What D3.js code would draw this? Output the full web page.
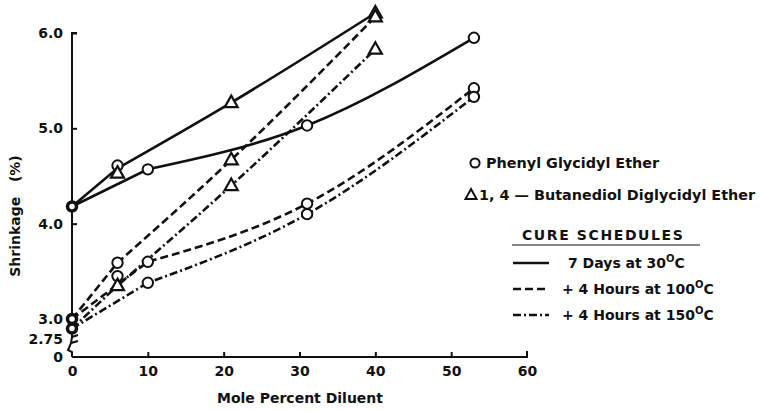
<!DOCTYPE html>
<html>
<head>
<meta charset="utf-8">
<script src="https://cdn.jsdelivr.net/npm/d3@7"></script>
<style>
  body { margin: 0; background: #fff; }
  svg text { font-family: "DejaVu Sans", sans-serif; font-weight: bold; fill: #111; }
</style>
</head>
<body>
<svg id="chart" width="764" height="411"></svg>
<script>
// mole percent diluent for each diluent
const pgeX = [0, 10, 31, 53];
const bdeX = [0, 6, 21, 40];

// shrinkage (%) per cure schedule
const pge30 = [4.18, 4.57, 5.03, 5.95];
const pge100 = [3.0, 3.6, 4.21, 5.42];
const pge150 = [2.88, 3.38, 4.1, 5.33];
const bde30 = [4.18, 4.58, 5.27, 6.21];
const bde100 = [3.0, 3.59, 4.67, 6.17];
const bde150 = [2.88, 3.35, 4.4, 5.83];

// plotted symbols [x, shrinkage]
const circlePts = [
  [0, 4.18], [0, 3.0], [0, 2.88],
  [6, 4.61], [6, 3.59], [6, 3.45],
  [10, 4.57], [10, 3.6], [10, 3.38],
  [31, 5.03], [31, 4.21], [31, 4.1],
  [53, 5.95], [53, 5.42], [53, 5.33]
];
const trianglePts = [
  [6, 4.53], [6, 3.35],
  [21, 5.27], [21, 4.67], [21, 4.4],
  [40, 6.21], [40, 6.17], [40, 5.83]
];

const xTicks = [0, 10, 20, 30, 40, 50, 60];
const yTicks = [0, 2.75, 3.0, 4.0, 5.0, 6.0];
const yTickLabels = ["0", "2.75", "3.0", "4.0", "5.0", "6.0"];

const legendDiluents = ["Phenyl Glycidyl Ether", "1, 4 \u2014 Butanediol Diglycidyl Ether"];
const legendCures = [["7 Days at 30", "C"], ["+ 4 Hours at 100", "C"], ["+ 4 Hours at 150", "C"]];

const svg = d3.select("#chart");

const xScale = d3.scaleLinear().domain([0, 60]).range([72, 527]);
// broken axis: 0 sits just below 2.75
const yScale = d3.scaleLinear().domain([0, 2.75, 3, 6]).range([357, 339, 319, 33]);

const styles = {
  solid: null,
  dashed: "8,4",
  dashdot: "8,3,2,3"
};

const series = [
  { x: pgeX, y: pge30, dash: styles.solid },
  { x: pgeX, y: pge100, dash: styles.dashed },
  { x: pgeX, y: pge150, dash: styles.dashdot },
  { x: bdeX, y: bde30, dash: styles.solid },
  { x: bdeX, y: bde100, dash: styles.dashed },
  { x: bdeX, y: bde150, dash: styles.dashdot }
];

const straight = d3.line()
  .x((d) => xScale(d[0]))
  .y((d) => yScale(d[1]));
const smooth = d3.line()
  .x((d) => xScale(d[0]))
  .y((d) => yScale(d[1]))
  .curve(d3.curveMonotoneX);

// first segment from the undiluted resin is straight, rest is smoothed
const curvePath = (s) => {
  const pts = s.x.map((x, i) => [x, s.y[i]]);
  const tail = smooth(pts.slice(1));
  return straight(pts.slice(0, 2)) + "L" + tail.slice(1);
};

// axes
const xAxis = svg.append("g")
  .attr("transform", `translate(0, ${yScale(0)})`)
  .call(d3.axisBottom(xScale).tickValues(xTicks).tickSize(-5).tickPadding(9));

const yAxis = svg.append("g")
  .attr("transform", `translate(${xScale(0)}, 0)`)
  .call(d3.axisLeft(yScale).tickValues(yTicks)
    .tickFormat((d, i) => yTickLabels[i]).tickSize(-5).tickPadding(9));

svg.selectAll(".domain").attr("stroke", "#111").attr("stroke-width", 2);
svg.selectAll(".tick line").attr("stroke", "#111").attr("stroke-width", 2);
svg.selectAll(".tick text").style("font-size", "14px").style("font-family", "DejaVu Sans, sans-serif").style("font-weight", "bold").attr("fill", "#111");
xAxis.select(".domain").attr("d", `M${xScale(0)},0H${xScale(60)}V-6`);
xAxis.selectAll(".tick").filter((d) => d === 0 || d === 60).select("line").remove();
yAxis.select(".domain").attr("d", `M5,${yScale(6)}H0V${yScale(2.75) - 2}`);
yAxis.selectAll(".tick").filter((d) => d === 0 || d === 2.75).select("line").remove();

// axis break
const bx = xScale(0), by = yScale(2.75);
svg.append("path")
  .attr("d", `M${bx},${by - 2} l6,-2 M${bx},${by - 2} L${bx - 1},${by + 4} l7,-2 M${bx - 1},${by + 4} L${bx - 4},${by + 11} L${bx},${by + 13} V${yScale(0)}`)
  .attr("fill", "none").attr("stroke", "#111").attr("stroke-width", 2);

// curves
svg.append("g").selectAll("path")
  .data(series)
  .join("path")
  .attr("d", curvePath)
  .attr("fill", "none")
  .attr("stroke", "#111")
  .attr("stroke-width", 2.6)
  .attr("stroke-dasharray", (s) => s.dash);

// symbols
svg.append("g").selectAll("circle")
  .data(circlePts)
  .join("circle")
  .attr("cx", (d) => xScale(d[0]))
  .attr("cy", (d) => yScale(d[1]))
  .attr("r", (d) => d[0] === 0 ? 4.5 : 5.2)
  .attr("fill", "#fff")
  .attr("stroke", "#111")
  .attr("stroke-width", (d) => d[0] === 0 ? 3.5 : 2);

const tri = "M0,-7L6.5,4.5H-6.5Z";
svg.append("g").selectAll("path")
  .data(trianglePts)
  .join("path")
  .attr("d", tri)
  .attr("transform", (d) => `translate(${xScale(d[0])},${yScale(d[1])})`)
  .attr("fill", "#fff")
  .attr("stroke", "#111")
  .attr("stroke-width", 2.2);

// axis titles
svg.append("text")
  .attr("x", 300).attr("y", 403)
  .attr("text-anchor", "middle")
  .style("font-size", "14px")
  .text("Mole Percent Diluent");

svg.append("text")
  .attr("transform", "translate(20, 216) rotate(-90)")
  .attr("text-anchor", "middle")
  .style("font-size", "14px")
  .attr("xml:space", "preserve")
  .text("Shrinkage   (%)");

// legend: diluents
const leg = svg.append("g");
leg.append("circle").attr("cx", 475).attr("cy", 163).attr("r", 4.6)
  .attr("fill", "#fff").attr("stroke", "#111").attr("stroke-width", 2);
leg.append("path").attr("d", "M0,-6L5.5,4H-5.5Z").attr("transform", "translate(471,195)")
  .attr("fill", "#fff").attr("stroke", "#111").attr("stroke-width", 2);
leg.selectAll("text.dil")
  .data(legendDiluents)
  .join("text")
  .attr("class", "dil")
  .attr("x", (d, i) => i === 0 ? 486 : 479)
  .attr("y", (d, i) => 168 + i * 32)
  .style("font-size", "14.4px")
  .attr("xml:space", "preserve")
  .text((d) => d);

// legend: cure schedules
leg.append("text")
  .attr("x", 522).attr("y", 240)
  .style("font-size", "14px")
  .style("letter-spacing", "1.6px")
  .text("CURE SCHEDULES");
leg.append("line")
  .attr("x1", 512).attr("x2", 700).attr("y1", 245).attr("y2", 245)
  .attr("stroke", "#111").attr("stroke-width", 1.2);

const cureDash = [styles.solid, styles.dashed, styles.dashdot];
legendCures.forEach((c, i) => {
  const y = 263 + i * 26;
  leg.append("line")
    .attr("x1", 513).attr("x2", 549).attr("y1", y).attr("y2", y)
    .attr("stroke", "#111").attr("stroke-width", 2.6)
    .attr("stroke-dasharray", cureDash[i]);
  const t = leg.append("text")
    .attr("x", i === 0 ? 568 : 562).attr("y", y + 5)
    .style("font-size", "14px");
  t.append("tspan").text(c[0]);
  t.append("tspan").attr("dy", -6).style("font-size", "10px").text("O");
  t.append("tspan").attr("dy", 6).text(c[1]);
});
</script>
</body>
</html>
